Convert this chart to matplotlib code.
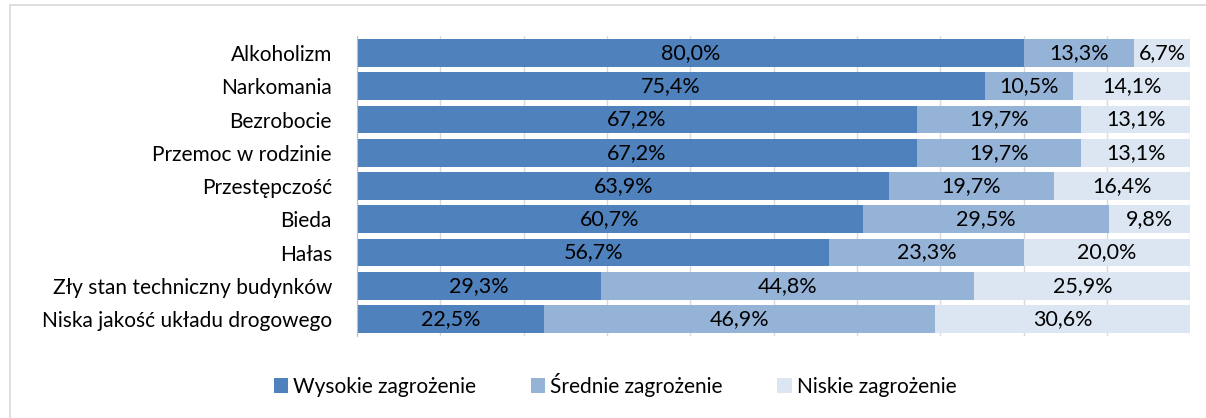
import numpy as np
import matplotlib.pyplot as plt
from matplotlib.patches import Rectangle

categories = ["Alkoholizm", "Narkomania", "Bezrobocie", "Przemoc w rodzinie",
              "Przestępczość", "Bieda", "Hałas", "Zły stan techniczny budynków",
              "Niska jakość układu drogowego"]
wysokie = [80.0, 75.4, 67.2, 67.2, 63.9, 60.7, 56.7, 29.3, 22.5]
srednie = [13.3, 10.5, 19.7, 19.7, 19.7, 29.5, 23.3, 44.8, 46.9]
niskie = [6.7, 14.1, 13.1, 13.1, 16.4, 9.8, 20.0, 25.9, 30.6]
series_names = ["Wysokie zagrożenie", "Średnie zagrożenie", "Niskie zagrożenie"]
colors = ["#4F81BD", "#95B3D7", "#DCE6F2"]

plt.rcParams['font.family'] = ['Lato', 'DejaVu Sans']

fig = plt.figure(figsize=(12.06, 4.18), dpi=100)
ax = fig.add_axes([0.296, 0.197, 0.691, 0.716])

y = np.arange(len(categories))
left = np.zeros(len(categories))
for vals, name, c in zip([wysokie, srednie, niskie], series_names, colors):
    vals = np.array(vals)
    bars = ax.barh(y, vals, left=left, height=0.83, color=c, label=name, zorder=2)
    for yi, l, v in zip(y, left, vals):
        ax.text(l + v / 2, yi, f"{v:.1f}%".replace(".", ","), ha="center",
                va="center", fontsize=15.5, color="black", zorder=3)
    left += vals

ax.set_xlim(0, 100)
ax.set_ylim(len(categories) - 0.5, -0.5)
ax.set_yticks(y)
ax.set_yticklabels(categories, fontsize=15)
ax.tick_params(axis="y", length=0, pad=18)
ax.set_xticks(np.arange(0, 101, 10))
ax.tick_params(axis="x", length=0, labelbottom=False)
ax.grid(axis="x", color="#D9D9D9", linewidth=1, zorder=0)
for s in ["top", "right", "bottom"]:
    ax.spines[s].set_visible(False)
ax.spines["left"].set_color("#BFBFBF")

fig.legend(loc="center", bbox_to_anchor=(0.51, 0.08), ncol=3, frameon=False,
           fontsize=15, handlelength=0.7, handleheight=0.7, handletextpad=0.25,
           columnspacing=2.6)

fig.patches.append(Rectangle((0.008, -0.05), 1.2, 1.038, transform=fig.transFigure,
                             fill=False, edgecolor="#D9D9D9", linewidth=1.2))

fig.savefig("out.png", dpi=100)
